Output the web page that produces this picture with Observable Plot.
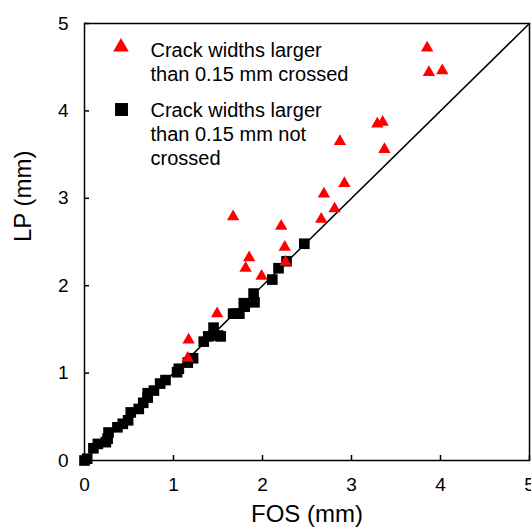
<!DOCTYPE html>
<html><head><meta charset="utf-8">
<script src="https://cdn.jsdelivr.net/npm/d3@7"></script>
<script src="https://cdn.jsdelivr.net/npm/@observablehq/plot@0.6"></script>
<style>body{margin:0;background:#fff} svg{font-family:"Liberation Sans",Arial,sans-serif}</style>
</head><body><div id="chart"></div>
<script>
// Series 1: crack widths larger than 0.15 mm crossed (red triangles)
const crossedFOS = [3.85,3.87,4.02,3.29,3.35,2.87,3.37,2.92,2.69,2.81,2.66,1.67,2.21,2.25,1.85,1.81,1.99,2.26,1.49,1.17,1.16];
const crossedLP  = [4.72,4.44,4.46,3.85,3.87,3.65,3.56,3.17,3.05,2.88,2.76,2.79,2.68,2.44,2.32,2.20,2.11,2.27,1.68,1.38,1.17];
// Series 2: crack widths larger than 0.15 mm not crossed (black squares)
const notCrossedFOS = [0,0.03,0.10,0.15,0.24,0.26,0.27,0.37,0.43,0.49,0.52,0.61,0.66,0.71,0.71,0.78,0.85,0.91,1.04,1.06,1.16,1.22,1.34,1.39,1.45,1.53,1.50,1.67,1.70,1.74,1.80,1.79,1.90,1.91,2.11,2.18,2.27,2.47];
const notCrossedLP  = [0,0.02,0.14,0.19,0.21,0.25,0.32,0.38,0.42,0.46,0.55,0.59,0.66,0.72,0.77,0.80,0.88,0.92,1.01,1.05,1.12,1.17,1.36,1.42,1.52,1.42,1.43,1.68,1.68,1.68,1.76,1.80,1.91,1.81,2.07,2.20,2.28,2.48];
// hidden third series at origin
const originFOS = [0];
const originLP = [0];
const xTicks = [0,1,2,3,4,5];
const yTicks = [0,1,2,3,4,5];
const diagonal = [0,5];
const legendLabels = ["Crack widths larger\nthan 0.15 mm crossed", "Crack widths larger\nthan 0.15 mm not\ncrossed"];
const xTitle = "FOS (mm)";
const yTitle = "LP (mm)";

const crossed = crossedFOS.map((v,i)=>({fos:v, lp:crossedLP[i]}));
const notCrossed = notCrossedFOS.map((v,i)=>({fos:v, lp:notCrossedLP[i]}));
const origin = originFOS.map((v,i)=>({fos:v, lp:originLP[i]}));

const plot = Plot.plot({
  width: 531, height: 527,
  marginLeft: 84, marginRight: 2, marginTop: 23, marginBottom: 67,
  x: {domain: [0,5]},
  y: {domain: [0,5]},
  style: {fontFamily: '"Liberation Sans", Arial, sans-serif', fontSize: "19px", color: "#000", background: "#fff", overflow: "visible"},
  marks: [
    Plot.line(diagonal, {x: d=>d, y: d=>d, stroke: "#000", strokeWidth: 1.5}),
    Plot.dot(origin, {x: "fos", y: "lp", fill: "#ED7D31", r: 3.5}),
    Plot.dot(notCrossed, {x: "fos", y: "lp", symbol: "square", fill: "#000", r: 6}),
    Plot.dot(crossed, {x: "fos", y: "lp", symbol: "triangle", fill: "#ff0000", r: 4.6}),
    Plot.frame({stroke: "#000", strokeWidth: 1.5}),
    Plot.axisX({ticks: xTicks, tickFormat: d3.format("d"), tickSize: -5, tickPadding: 22, label: null, fontSize: 19, strokeWidth: 1.5}),
    Plot.axisY({ticks: yTicks, tickFormat: d3.format("d"), tickSize: -5, tickPadding: 21, label: null, fontSize: 19, strokeWidth: 1.5}),
    Plot.text([xTitle], {text: d=>d, frameAnchor: "bottom", dy: 61, fontSize: 24}),
    Plot.text([yTitle], {text: d=>d, frameAnchor: "left", dx: -61, rotate: -90, fontSize: 24}),
    Plot.dot([legendLabels[0]], {frameAnchor: "top-left", dx: 36.5, dy: 23.5, symbol: "triangle", fill: "#ff0000", r: 5.8}),
    Plot.dot([legendLabels[1]], {frameAnchor: "top-left", dx: 37, dy: 86, symbol: "square", fill: "#000", r: 7.3}),
    Plot.text([legendLabels[0]], {text: d=>d, frameAnchor: "top-left", dx: 66, dy: 38, textAnchor: "start", lineAnchor: "middle", lineHeight: 1.2, fontSize: 20}),
    Plot.text([legendLabels[1]], {text: d=>d, frameAnchor: "top-left", dx: 66, dy: 110, textAnchor: "start", lineAnchor: "middle", lineHeight: 1.2, fontSize: 20})
  ]
});
document.getElementById("chart").appendChild(plot);
</script>
</body></html>
